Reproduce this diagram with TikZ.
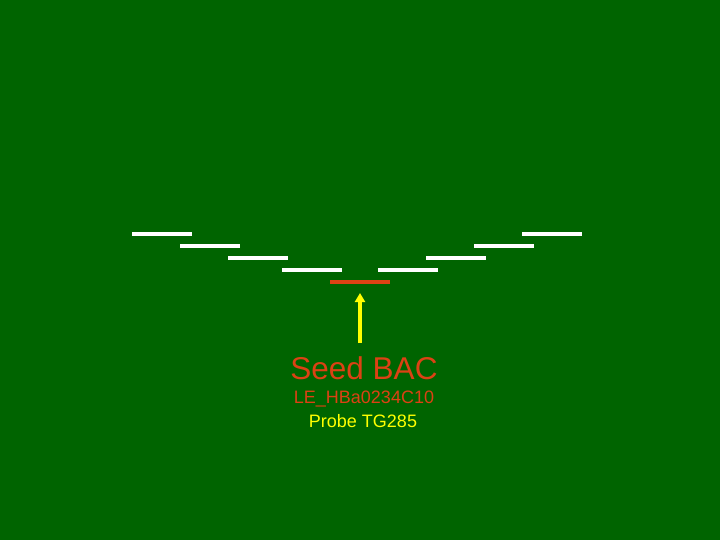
\documentclass[tikz,border=0pt]{standalone}
\usepackage{fontspec}
\setmainfont{Liberation Sans}
\usetikzlibrary{arrows.meta}
\definecolor{bg}{RGB}{0,100,0}
\definecolor{seed}{RGB}{220,66,20}
\definecolor{probe}{RGB}{255,255,0}
\begin{document}
\begin{tikzpicture}[x=1pt,y=-1pt,
  bac/.style={draw=white,line width=3.5pt},
  seedbac/.style={draw=seed,line width=3.5pt},
  lbl/.style={inner sep=0pt,anchor=center}]
\fill[bg] (0,0) rectangle (720,540);
\useasboundingbox (0,0) rectangle (720,540);
% left staircase
\draw[bac] (132,234) -- (192,234);
\draw[bac] (180,246) -- (240,246);
\draw[bac] (228,258) -- (288,258);
\draw[bac] (282,270) -- (342,270);
% right staircase
\draw[bac] (522,234) -- (582,234);
\draw[bac] (474,246) -- (534,246);
\draw[bac] (426,258) -- (486,258);
\draw[bac] (378,270) -- (438,270);
% seed
\draw[seedbac] (330,282) -- (390,282);
\coordinate (tip) at (360,293);
\coordinate (tail) at (360,343);
\draw[probe,line width=3.3pt,-{Triangle[length=9pt,width=10pt]}] (tail) -- (tip);
\node[lbl,text=seed,font=\fontsize{31.5}{31.5}\selectfont] (seedlbl) at (364,368) {Seed BAC};
\node[lbl,text=seed,font=\fontsize{18}{18}\selectfont] (name) at (364,399) {LE\_HBa0234C10};
\node[lbl,text=probe,font=\fontsize{18}{18}\selectfont] (probe) at (363,421) {Probe TG285};
\end{tikzpicture}
\end{document}
